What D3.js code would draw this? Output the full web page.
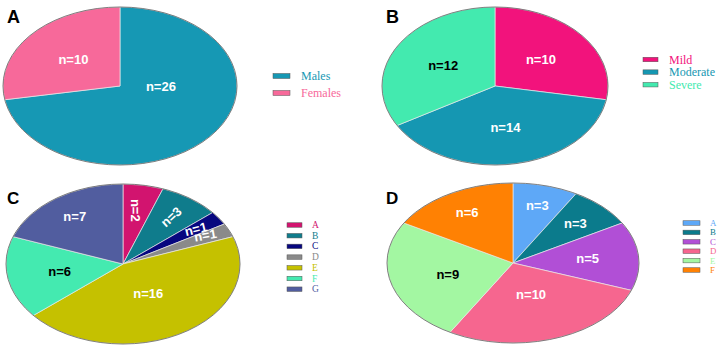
<!DOCTYPE html>
<html><head><meta charset="utf-8">
<script src="https://cdn.jsdelivr.net/npm/d3@7"></script>
<style>body{margin:0;background:#fff}svg{display:block}</style>
</head><body>
<svg id="c" width="722" height="350"></svg>
<script>
// ---- data ----
const catsA = ["Males", "Females"];
const valsA = [26, 10];
const catsB = ["Mild", "Moderate", "Severe"];
const valsB = [10, 14, 12];
const catsC = ["A", "B", "C", "D", "E", "F", "G"];
const valsC = [2, 3, 1, 1, 16, 6, 7];
const catsD = ["A", "B", "C", "D", "E", "F"];
const valsD = [3, 3, 5, 10, 9, 6];
const panelTitles = ["A", "B", "C", "D"];

// ---- styles ----
const colA = ["#1698b4", "#f7699a"];
const colB = ["#f2137c", "#1597b2", "#43eaaf"];
const colC = ["#d2146f", "#0f7c8c", "#07077f", "#8a8a8a", "#c5c100", "#44eab0", "#515d9f"];
const colD = ["#5ea8f7", "#0b7b8c", "#b14fd6", "#f6668f", "#a3f7a2", "#ff8103"];

const panels = [
  {title: panelTitles[0], cats: catsA, vals: valsA, cols: colA, labCol: ["#fff","#fff"],
   cx: 120, cy: 86, rx: 117, ry: 79, lr: 0.52, tilt: 0, rot: [0,0],
   over: {0: [92, 0.35]},
   tx: 7, ty: 23, tsize: 18,
   leg: {x: 273, y: 76, dy: 17, w: 17, h: 5, tx: 301, fs: 12}},
  {title: panelTitles[1], cats: catsB, vals: valsB, cols: colB, labCol: ["#fff","#fff","#000"],
   cx: 495, cy: 86, rx: 113, ry: 79, lr: 0.53, tilt: 0, rot: [0,0,0], over: {},
   tx: 386, ty: 23, tsize: 18,
   leg: {x: 643, y: 59.5, dy: 12.6, w: 15, h: 4.5, tx: 669, fs: 12}},
  {title: panelTitles[2], cats: catsC, vals: valsC, cols: colC,
   labCol: ["#fff","#fff","#fff","#fff","#fff","#000","#fff"],
   cx: 123, cy: 264, rx: 117, ry: 80, lr: 0.58, tilt: 0.17, rot: [90,-42,-14,-10,0,0,0],
   over: {0: [9, 0.68], 2: [55, 0.76], 3: [63, 0.79]},
   tx: 7, ty: 204, tsize: 17,
   leg: {x: 287, y: 225, dy: 10.7, w: 15, h: 4.5, tx: 312, fs: 9.5}},
  {title: panelTitles[3], cats: catsD, vals: valsD, cols: colD,
   labCol: ["#fff","#fff","#fff","#fff","#000","#fff"],
   cx: 513, cy: 263, rx: 126, ry: 80, lr: 0.58, tilt: 0.17, rot: [0,0,0,0,0,0], over: {},
   tx: 386, ty: 204, tsize: 17,
   leg: {x: 683, y: 223, dy: 9.4, w: 17, h: 4.5, tx: 710, fs: 8.8}}
];

const svg = d3.select("#c");
const pie = d3.pie().sort(null).value(d => d).startAngle(0).endAngle(2 * Math.PI);
const arc = d3.arc().innerRadius(0).outerRadius(1);

panels.forEach(p => {
  const arcs = pie(p.vals);
  const g = svg.append("g");
  const pg = g.append("g").attr("transform", `translate(${p.cx},${p.cy}) scale(${p.rx},${p.ry})`);
  pg.selectAll("path").data(arcs).join("path")
    .attr("d", arc)
    .attr("fill", (d, i) => p.cols[i])
    .attr("stroke", "#e8e8e8")
    .attr("stroke-width", 0.7)
    .attr("vector-effect", "non-scaling-stroke");
  pg.append("ellipse").attr("rx", 1).attr("ry", 1)
    .attr("fill", "none").attr("stroke", "#666").attr("stroke-width", 0.8)
    .attr("vector-effect", "non-scaling-stroke");

  // labels
  arcs.forEach((d, i) => {
    let th = (d.startAngle + d.endAngle) / 2;
    let r = p.lr + p.tilt * Math.cos(th);
    if (p.over[i]) { th = p.over[i][0] * Math.PI / 180; r = p.over[i][1]; }
    const x = p.cx + p.rx * r * Math.sin(th);
    const y = p.cy - p.ry * r * Math.cos(th);
    g.append("text")
      .attr("transform", `translate(${x},${y}) rotate(${p.rot[i]})`)
      .attr("text-anchor", "middle").attr("dominant-baseline", "central")
      .attr("font-family", "Liberation Sans, Arial, sans-serif")
      .attr("font-weight", "bold").attr("font-size", 13)
      .attr("fill", p.labCol[i])
      .text("n=" + d.data);
  });

  // panel letter
  svg.append("text").attr("x", p.tx).attr("y", p.ty)
    .attr("font-family", "Liberation Sans, Arial, sans-serif")
    .attr("font-weight", "bold").attr("font-size", p.tsize)
    .attr("fill", "#000").text(p.title);

  // legend
  const L = p.leg;
  const lg = svg.append("g");
  p.cats.forEach((c, i) => {
    const yy = L.y + i * L.dy;
    lg.append("rect").attr("x", L.x).attr("y", yy - L.h / 2)
      .attr("width", L.w).attr("height", L.h)
      .attr("fill", p.cols[i]).attr("stroke", "#555").attr("stroke-width", 0.5);
    lg.append("text").attr("x", L.tx).attr("y", yy)
      .attr("dominant-baseline", "central")
      .attr("font-family", "Liberation Serif, Times New Roman, serif")
      .attr("font-size", L.fs).attr("fill", p.cols[i]).text(c);
  });
});
</script>
</body></html>
